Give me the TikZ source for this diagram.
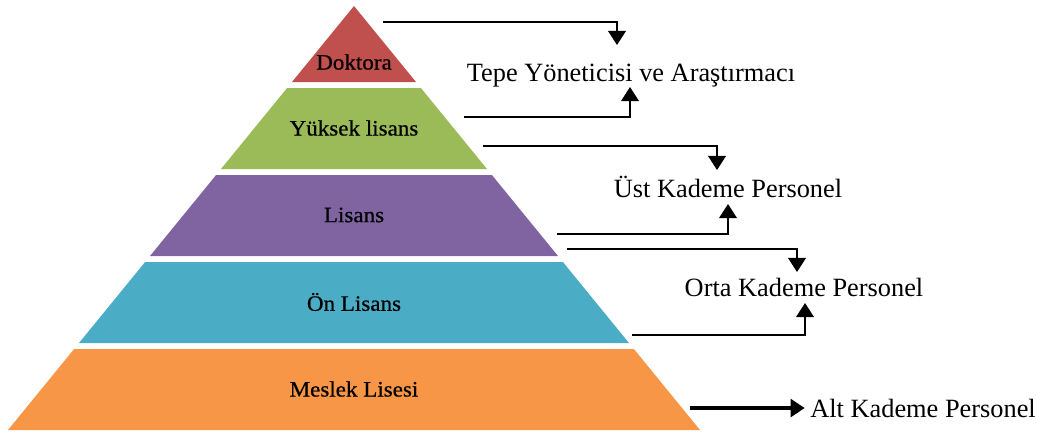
\documentclass[tikz,border=0pt]{standalone}
\usepackage{fontspec}
\setmainfont{Liberation Serif}
\newfontfamily\layerfont[FakeStretch=1.05,FakeBold=0.6]{Liberation Serif}
\usetikzlibrary{arrows.meta}
\definecolor{layerred}{HTML}{C0504D}
\definecolor{layergreen}{HTML}{9BBB59}
\definecolor{layerpurple}{HTML}{8064A2}
\definecolor{layercyan}{HTML}{4BACC6}
\definecolor{layerorange}{HTML}{F79646}
\begin{document}
\begin{tikzpicture}[x=0.02cm,y=-0.02cm,
  layerlab/.style={font=\layerfont\fontsize{12.5}{14}\selectfont},
  sidelab/.style={font=\fontsize{15}{18}\selectfont,anchor=base,inner sep=0pt},
  conn/.style={-{Triangle[width=10pt,length=8pt]},line width=1.1pt},
  bigconn/.style={-{Triangle[width=10pt,length=8pt]},line width=2.4pt}]
\useasboundingbox (0,0) rectangle (1037,434);
% Draw pyramid layers
\foreach \name/\lab/\col/\top/\bot/\ly in {dok/Doktora/layerred/6/82/62,
  yuk/Yüksek lisans/layergreen/88/169/128, lis/Lisans/layerpurple/175/256/215,
  onl/Ön Lisans/layercyan/262/343/302, mes/Meslek Lisesi/layerorange/349/430/389}{
  \fill[\col] ({354-0.816*(\top-6)},\top) -- ({354+0.816*(\top-6)},\top) --
    ({354+0.816*(\bot-6)},\bot) -- ({354-0.816*(\bot-6)},\bot) -- cycle;
  \node[layerlab] (\name) at (354,\ly) {\lab};
}
% Staff levels
\node[sidelab] (tepe) at (631,81) {Tepe Yöneticisi ve Araştırmacı};
\node[sidelab] (ust) at (728,197) {Üst Kademe Personel};
\node[sidelab] (orta) at (804,296) {Orta Kademe Personel};
\node[sidelab,anchor=base west] (alt) at (810,417) {Alt Kademe Personel};
% Arrows from the layers
\coordinate (dok-out) at (383,22);
\coordinate (yuk-out) at (464,117);
\coordinate (yuk-low) at (483,146);
\coordinate (lis-out) at (557,234);
\coordinate (lis-low) at (567,249);
\coordinate (onl-out) at (632,335);
\coordinate (mes-out) at (690,408);
\draw[conn] (dok-out) -| ([xshift=-0.28cm,yshift=0.72cm]tepe.base);
\draw[conn] (yuk-out) -| ([xshift=-0.02cm,yshift=-0.12cm]tepe.base);
\draw[conn] (yuk-low) -| ([xshift=-0.22cm,yshift=0.54cm]ust.base);
\draw[conn] (lis-out) -| ([yshift=-0.14cm]ust.base);
\draw[conn] (lis-low) -| ([xshift=-0.14cm,yshift=0.48cm]orta.base);
\draw[conn] (onl-out) -| ([xshift=0.02cm,yshift=-0.14cm]orta.base);
\draw[bigconn] (mes-out) -- ([xshift=-3pt]alt.west |- mes-out);
\end{tikzpicture}
\end{document}
